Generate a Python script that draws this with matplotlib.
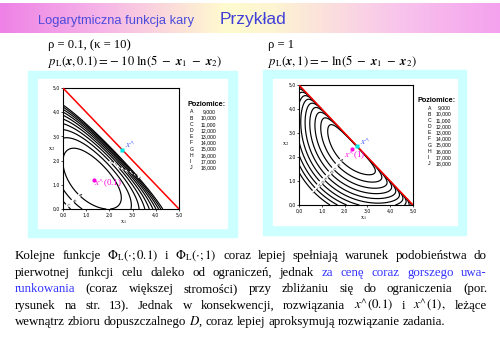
import numpy as np
import matplotlib
matplotlib.use("Agg")
import matplotlib.pyplot as plt
from matplotlib.patches import Rectangle
from matplotlib.colors import LinearSegmentedColormap

plt.rcParams["mathtext.fontset"] = "stix"

W, H = 500, 352

# contour levels ("Poziomice")
levels = [9, 10, 11, 12, 13, 14, 15, 16, 17, 18]
level_names = ["A", "B", "C", "D", "E", "F", "G", "H", "I", "J"]
level_text = ["9,000", "10,000", "11,000", "12,000", "13,000",
              "14,000", "15,000", "16,000", "17,000", "18,000"]
ticks = [0, 1, 2, 3, 4, 5]
tick_labels = ["0,0", "1,0", "2,0", "3,0", "4,0", "5,0"]

bound = 5.0                  # x1 + x2 <= 5
kappa_left, kappa_right = 10.0, 1.0
# objective in s = x1 + x2, d = x1 - x2 :  a (s - c)^2 + b d^2 + k  (fitted by eye per panel)
coef_left = [0.1227, 19.1, 0.2384, -16.85]
coef_right = [0.285, 9.5, 0.40, -0.33]

x_hat = (2.55, 2.45)
x_left = (1.34, 1.20)
x_right = (2.32, 2.32)

# where the tiny letters sit on the contours
lab_left = [(0.7, 0.55), (0.45, 0.35), (0.22, 0.17),
            (2.05, 1.92), (2.225, 1.835), (2.40, 1.75), (2.575, 1.665),
            (2.75, 1.58), (2.925, 1.495), (3.10, 1.41), (3.275, 1.325)]
lab_right = [(1.84, 1.86), (1.66, 1.67), (1.5, 1.5), (1.36, 1.34), (1.24, 1.21),
             (1.1, 1.08), (0.97, 0.93), (0.85, 0.8), (0.75, 0.7), (0.63, 0.57)]

# paragraph under the plots: (text, colour) pieces per line
blue = "#3333ff"
para = [
    [(r"Kolejne funkcje $\Phi_\mathrm{L}(\cdot;0.1)$ i $\Phi_\mathrm{L}(\cdot;1)$ coraz lepiej spełniają warunek podobieństwa do", "black")],
    [("pierwotnej funkcji celu daleko od ograniczeń, jednak", "black"), ("za cenę coraz gorszego uwa-", blue)],
    [("runkowania", blue), ("(coraz większej stromości) przy zbliżaniu się do ograniczenia (por.", "black")],
    [(r"rysunek na str. 13). Jednak w konsekwencji, rozwiązania $x^{\wedge}(0.1)$ i $x^{\wedge}(1),$ leżące", "black")],
    [(r"wewnątrz zbioru dopuszczalnego $D$, coraz lepiej aproksymują rozwiązanie zadania.", "black")],
]
para_base = [259, 276, 292, 309, 325]


def fx(x):
    return x / W


def fy(y):
    return 1 - y / H


fig = plt.figure(figsize=(W / 100, H / 100), dpi=100)
fig.patch.set_facecolor("white")

# header band
ax_h = fig.add_axes([0, fy(33), 1, 30 / H])
band = LinearSegmentedColormap.from_list(
    "band", [(0.0, "#ee82e6"), (0.2, "#f6b4e8"), (0.45, "#fffbcf"),
             (0.55, "#fdf4d2"), (0.8, "#f8c4ec"), (1.0, "#f4a2ee")])
ax_h.imshow(np.linspace(0, 1, 500)[None, :], cmap=band, aspect="auto")
ax_h.axis("off")

fig.text(fx(38), fy(24), "Logarytmiczna funkcja kary", color="#4b4bdc",
         fontsize=9.3, family="Liberation Sans")
fig.text(fx(220), fy(24), "Przykład", color="#4040d8",
         fontsize=12.5, family="Liberation Sans")

ser = dict(family="Liberation Serif", fontsize=9.1, color="black")
fig.text(fx(48), fy(48), "ρ = 0.1, (κ = 10)", **ser)
fig.text(fx(48), fy(65), r"$p_\mathrm{L}(\mathbfit{x},0.1) = -\ 10\ \ln(5\ -\ \mathbfit{x}_1\ -\ \mathbfit{x}_2)$", **ser)
fig.text(fx(268), fy(48), "ρ = 1", **ser)
fig.text(fx(268), fy(65), r"$p_\mathrm{L}(\mathbfit{x},1) = -\ \ln(5\ -\ \mathbfit{x}_1\ -\ \mathbfit{x}_2)$", **ser)

# cyan frames with white inner boxes
for (x0, y0, x1, y1) in [(28, 71, 237, 237), (263, 70, 466, 235)]:
    fig.add_artist(Rectangle((fx(x0), fy(y1)), fx(x1 - x0), (y1 - y0) / H,
                             transform=fig.transFigure, color="#ccffff", zorder=0))
for (x0, y0, x1, y1) in [(38, 79, 227, 228), (273, 79, 457, 225)]:
    fig.add_artist(Rectangle((fx(x0), fy(y1)), fx(x1 - x0), (y1 - y0) / H,
                             transform=fig.transFigure, color="white", zorder=0))

g = np.linspace(0, 5, 600)
X1, X2 = np.meshgrid(g, g)
S, D = X1 + X2, X1 - X2
feasible = S < bound - 1e-6

panels = [
    dict(box=(63, 88, 179, 209), kappa=kappa_left, coef=coef_left, xs=x_left, lab="(0.1)",
         lab_pos=(94, 186), labs=lab_left, leg=(187, 106, 190, 216, 112),
         xl=(120, 223), yl=(48, 150)),
    dict(box=(299, 85, 413, 205), kappa=kappa_right, coef=coef_right, xs=x_right, lab="(1)",
         lab_pos=(344, 158), labs=lab_right, leg=(417, 102, 428, 451, 108),
         xl=(360, 219), yl=(282, 145)),
]

for p in panels:
    x0, y0, x1, y1 = p["box"]
    ax = fig.add_axes([fx(x0), fy(y1), fx(x1 - x0), (y1 - y0) / H])
    a, c, b, k = p["coef"]
    base = a * (S - c) ** 2 + b * D ** 2 + k
    F = np.where(feasible, base - p["kappa"] * np.log(np.where(feasible, bound - S, 1.0)), np.nan)
    cs = ax.contour(X1, X2, F, levels=levels, colors="black", linewidths=0.85)
    ax.clabel(cs, fmt=dict(zip(levels, level_names)), fontsize=2.8,
              manual=p["labs"], inline=True, inline_spacing=0.5)
    ax.plot([0, bound], [bound, 0], color="red", lw=1.1, zorder=5)
    ax.plot(*x_hat, "s", color="#00e6e6", ms=2.8, mec="none", zorder=6)
    ax.plot(*p["xs"], "o", color="#ff00e0", ms=3, mec="none", zorder=6)
    ax.set_xlim(0, 5)
    ax.set_ylim(0, 5)
    ax.set_xticks(ticks)
    ax.set_xticklabels(tick_labels)
    ax.set_yticks(ticks)
    ax.set_yticklabels(tick_labels)
    ax.tick_params(labelsize=3.3, length=1.5, width=0.5, pad=1)
    for sp in ax.spines.values():
        sp.set_linewidth(0.8)
    ax.text(x_hat[0] + 0.12, x_hat[1] + 0.05, r"$x^{\wedge}$", color="#3355ff", fontsize=6.5)
    fig.text(fx(p["lab_pos"][0]), fy(p["lab_pos"][1]), r"$x^{\wedge}$" + p["lab"],
             color="#ff00e0", fontsize=6.5, family="Liberation Serif")
    fig.text(fx(p["xl"][0]), fy(p["xl"][1]), r"$\mathrm{x}_1$", fontsize=4.5)
    fig.text(fx(p["yl"][0]), fy(p["yl"][1]), r"$\mathrm{x}_2$", fontsize=4.5)
    lx, ly, letx, valx, ity = p["leg"]
    fig.text(fx(lx), fy(ly), "Poziomice:", fontsize=5.2, weight="bold", family="Liberation Sans")
    for i, (nm, vt) in enumerate(zip(level_names, level_text)):
        fig.text(fx(letx), fy(ity + i * 6.2), nm, fontsize=3.7, family="Liberation Sans", va="center")
        fig.text(fx(valx), fy(ity + i * 6.2), vt, fontsize=3.7, family="Liberation Sans",
                 va="center", ha="right")

# justified paragraph
rend = fig.canvas.get_renderer()
left, right = 15, 487
for li, (segs, yb) in enumerate(zip(para, para_base)):
    words = []
    for txt, col in segs:
        words += [(w, col) for w in txt.split(" ") if w]
    objs = [fig.text(0, fy(yb), w, color=c, family="Liberation Serif", fontsize=9.3)
            for w, c in words]
    widths = [o.get_window_extent(rend).width for o in objs]
    if li < len(para) - 1:
        gap = (right - left - sum(widths)) / (len(objs) - 1)
    else:
        gap = 3.0
    x = left
    for o, wd in zip(objs, widths):
        o.set_x(fx(x))
        x += wd + gap

fig.savefig("out.png", dpi=100)
